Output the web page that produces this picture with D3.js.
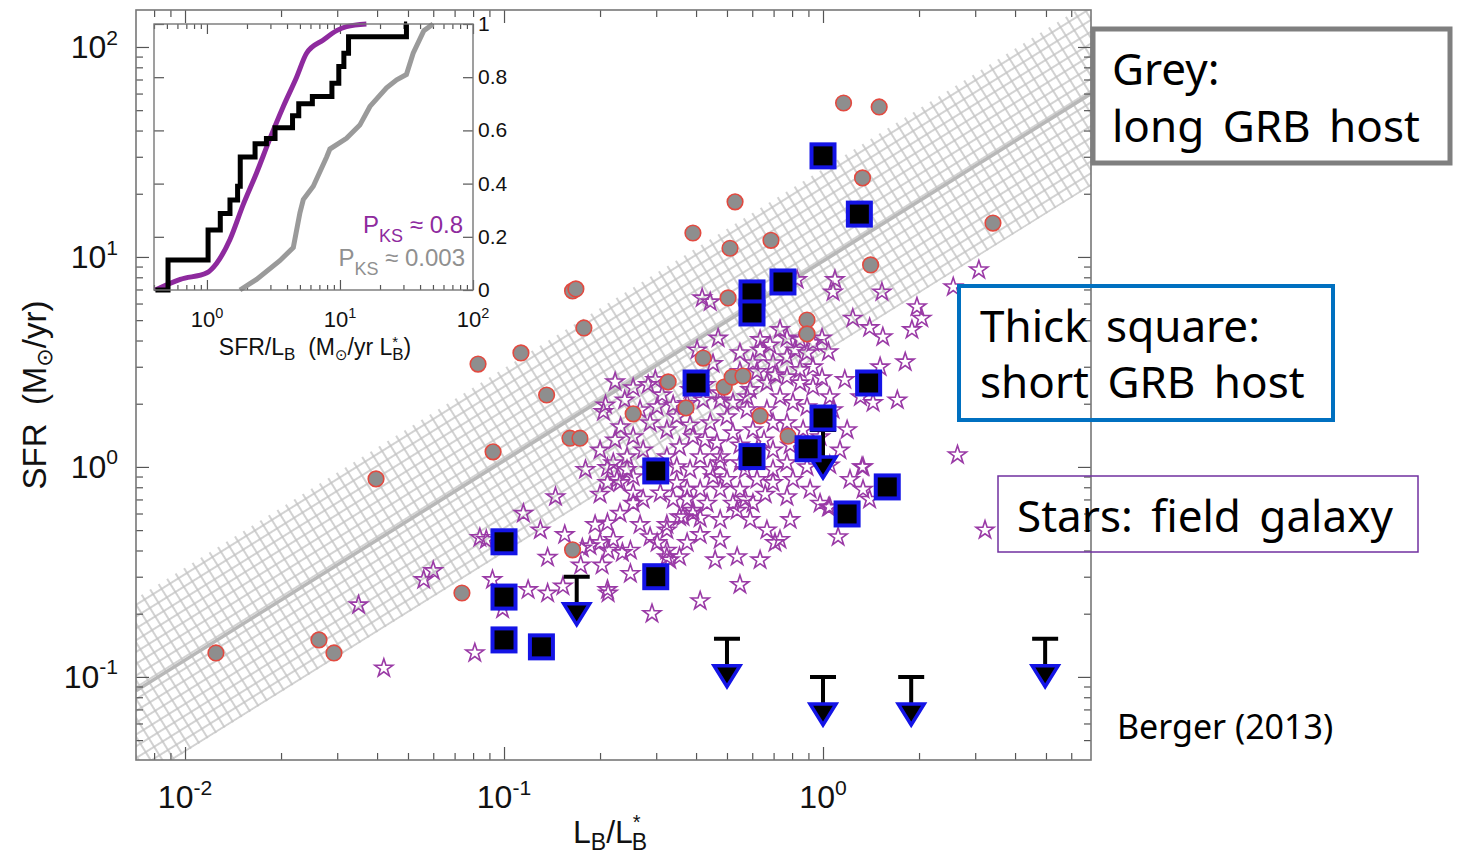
<!DOCTYPE html>
<html>
<head>
<meta charset="utf-8">
<script src="https://cdn.jsdelivr.net/npm/d3@7"></script>
<style>
  body { margin: 0; background: #fff; }
  svg { display: block; }
  text { font-family: "Liberation Sans", Arial, sans-serif; }
  .note { font-family: "Noto Sans", "Open Sans", sans-serif; }
</style>
</head>
<body>
<script>
// ---- data ----
// long GRB hosts (grey circles)
const longL = [0.0125, 0.0263, 0.0293, 0.0397, 0.0738, 0.0829, 0.0924, 0.113, 0.136, 0.164, 0.168, 0.178,
  0.161, 0.173, 0.164, 0.254, 0.327, 0.372, 0.391, 0.421, 0.504, 0.511, 0.530, 0.490, 0.519, 0.561,
  0.635, 0.687, 0.777, 0.891, 0.891, 1.16, 1.50, 1.33, 1.41, 3.41];
const longSFR = [0.130, 0.150, 0.130, 0.877, 0.251, 3.09, 1.18, 3.49, 2.20, 6.89, 7.04, 4.59,
  1.37, 1.37, 0.403, 1.79, 2.54, 1.91, 13.0, 3.30, 6.38, 11.0, 18.3, 2.40, 2.68, 2.71,
  1.75, 12.0, 1.40, 5.01, 4.30, 54.1, 51.8, 23.8, 9.16, 14.5];

// short GRB hosts (thick squares)
const shortL = [1.0, 1.30, 0.749, 0.599, 0.599, 0.400, 1.39, 1.0, 0.898, 0.599, 0.299, 1.59, 1.19,
  0.1, 0.1, 0.299, 0.1, 0.131];
const shortSFR = [30.3, 16.0, 7.60, 6.74, 5.41, 2.51, 2.51, 1.71, 1.22, 1.12, 0.957, 0.803, 0.597,
  0.44, 0.24, 0.30, 0.15, 0.139];

// short GRB hosts with SFR upper limits
const limitL = [0.169, 0.50, 1.0, 1.89, 4.97, 1.0];
const limitSFR = [0.30, 0.152, 0.10, 0.10, 0.152, 1.5];

// field galaxies (stars)
const fieldL = [0.042, 0.035, 0.056, 0.060, 0.081, 0.084, 0.088, 0.092, 0.099, 0.115, 0.130, 0.137, 0.145,
  0.119, 0.137, 0.153, 0.176, 0.186, 0.200, 0.212, 0.220, 0.235, 0.203, 0.212, 0.291, 0.302, 0.324,
  0.355, 0.375, 0.331, 0.538, 0.412, 0.391, 0.324, 0.364, 0.273, 0.254, 0.226, 0.211, 0.243, 0.309,
  0.348, 0.375, 0.412, 0.452, 0.476, 0.538, 0.570, 0.418, 0.443, 0.469, 0.403, 0.452, 0.223, 0.254,
  0.283, 0.298, 0.375, 0.208, 0.339, 0.476, 0.578, 0.205, 1.09, 1.075, 1.53, 1.97, 2.04, 1.24, 1.40,
  1.54, 1.90, 1.81, 1.51, 1.17, 1.71, 1.31, 1.435, 3.08, 2.56, 0.83, 2.64, 3.22, 1.325, 1.115, 1.04,
  0.707, 0.635, 0.682, 0.771, 0.847, 0.93, 0.993, 0.267, 0.302, 0.232, 0.254, 0.287, 0.324, 0.348,
  0.421, 0.476, 0.522, 0.591, 0.667, 0.771, 0.847, 0.93, 0.697, 0.771, 0.891, 0.603, 0.549, 0.635,
  0.847, 0.93, 0.733, 0.805, 0.891, 0.667, 0.578, 0.500, 0.443, 0.391, 0.355, 0.324, 0.273, 0.243,
  0.220, 0.211, 0.231, 0.254, 0.348, 0.412, 0.465, 0.522, 0.603, 0.697, 0.771, 0.866, 0.979, 1.075,
  1.05, 1.19, 1.13, 1.335, 1.335, 1.40, 1.05, 0.733, 0.667, 0.771, 0.697, 0.621, 0.549, 0.522, 0.476,
  0.375, 0.339, 0.254, 0.231, 0.211, 0.249, 0.287, 0.324, 0.355, 0.391, 0.433, 0.476, 0.324, 0.211,
  0.476, 0.549, 0.621, 0.697, 0.771, 0.697, 0.805, 0.891, 0.979, 0.603,
  0.239, 0.313, 0.383, 0.427, 0.549, 0.621, 0.707, 0.993, 1.04, 0.817, 0.733, 0.383, 0.427, 0.549,
  0.653, 0.789, 0.923, 0.287, 0.383, 0.443, 0.500, 0.570, 0.659, 0.412, 0.476, 0.591, 0.635, 0.459,
  0.267, 0.249, 0.193, 0.174, 0.155, 0.298, 0.549, 0.412, 0.789, 0.911, 1.215, 1.05, 0.223, 0.200,
  0.180, 0.200];
const fieldSFR = [0.11, 0.22, 0.29, 0.32, 0.13, 0.46, 0.45, 0.29, 0.21, 0.60, 0.50, 0.37, 0.72,
  0.26, 0.25, 0.27, 0.41, 0.42, 0.435, 0.40, 0.45, 0.39, 0.34, 0.25, 0.20, 0.435, 0.40,
  0.373, 0.435, 0.36, 0.373, 0.57, 0.60, 0.53, 0.578, 0.70, 0.75, 0.87, 0.99, 0.97, 0.75,
  0.84, 0.70, 0.78, 0.896, 1.116, 0.62, 0.70, 6.37, 6.1, 4.1, 3.6, 3.1, 2.54, 2.38,
  2.46, 2.6, 2.0, 1.97, 1.97, 2.08, 2.155, 1.83, 7.78, 6.8, 6.8, 5.78, 5.1, 5.1, 4.6,
  4.16, 4.5, 3.16, 2.99, 2.6, 2.08, 2.155, 2.02, 8.67, 7.2, 7.78, 1.14, 0.50, 1.0, 0.464, 0.64,
  0.435, 4.03, 3.8, 4.1, 4.03, 3.9, 4.1, 1.87, 1.93, 1.55, 1.39, 1.62, 1.50, 1.73,
  2.08, 2.25, 2.02, 2.33, 2.51, 2.68, 2.9, 2.99, 3.13, 3.34, 3.49, 3.13, 3.49, 3.6,
  2.51, 2.40, 2.155, 2.02, 1.93, 1.87, 1.87, 1.73, 1.62, 1.39, 1.245, 1.116, 1.2, 1.116,
  1.045, 0.84, 0.84, 0.896, 1.0, 1.116, 1.3, 1.45, 1.50, 1.62, 1.62, 1.50, 1.39, 1.87,
  2.155, 1.50, 1.2, 1.0, 0.78, 0.70, 0.645, 0.45, 0.50, 0.72, 0.84, 0.87, 0.78, 0.67, 0.78,
  0.78, 0.70, 0.67, 0.60, 0.54, 0.40, 0.464, 0.50, 0.578, 0.62, 0.67, 0.56, 0.373, 0.26,
  1.045, 1.045, 1.2, 1.2, 1.045, 0.97, 0.87, 1.0, 0.67, 0.67,
  2.08, 2.2, 2.33, 2.46, 2.84, 2.84, 2.74, 2.65, 3.53, 3.6, 4.5, 1.58, 1.34, 1.27,
  1.34, 1.27, 1.23, 0.97, 0.97, 0.97, 0.87, 0.97, 0.74, 0.475, 0.45, 0.56, 0.36, 0.36,
  0.53, 0.31, 0.53, 0.34, 0.475, 0.29, 0.275, 0.23, 0.56, 0.78, 0.87, 1.02, 1.34, 1.2,
  0.97, 0.74];

// SFR - L_B relation of long GRB hosts (log SFR = a + b log L, +/- scatter in dex)
const bandIntercept = 0.98;
const bandSlope = 0.95;
const bandScatter = 0.44;

// inset: cumulative distributions of SFR/L_B
const cdfShortX = [0.41, 0.51, 1.02, 1.26, 1.49, 1.70, 1.78, 2.3, 2.8, 3.25, 4.4, 4.9, 6.2, 8.7, 9.8, 10.7, 11.6, 31.6, 32];
const cdfShortY = [0, 0.113, 0.226, 0.288, 0.338, 0.39, 0.50, 0.55, 0.57, 0.61, 0.655, 0.70, 0.727, 0.777, 0.84, 0.89, 0.952, 1.0, 1.0];
const cdfFieldX = [0.41, 0.63, 1.0, 1.18, 1.49, 1.87, 2.36, 2.98, 3.75, 4.72, 5.61, 7.5, 9.44, 11.2, 15.8];
const cdfFieldY = [0, 0.04, 0.065, 0.10, 0.19, 0.32, 0.44, 0.57, 0.69, 0.80, 0.89, 0.94, 0.975, 0.99, 1.0];
const cdfLongX = [1.77, 2.36, 3.53, 4.46, 5.0, 5.3, 6.3, 7.94, 8.4, 11.2, 14.1, 16.8, 22.4, 26.7, 31.6, 35.5, 42.7, 50.1];
const cdfLongY = [0, 0.04, 0.11, 0.16, 0.29, 0.34, 0.39, 0.50, 0.53, 0.57, 0.62, 0.69, 0.76, 0.79, 0.81, 0.89, 0.975, 1.0];

// tick labels
const xTickExps = [-2, -1, 0];
const yTickExps = [-1, 0, 1, 2];
const insetXTickExps = [0, 1, 2];
const insetYTicks = [0, 0.2, 0.4, 0.6, 0.8, 1];

// ---- layout ----
const W = 1457, H = 859;
const P = { left: 136, right: 1091, top: 10, bottom: 760 };
const svg = d3.select("body").append("svg").attr("width", W).attr("height", H);

const x = d3.scaleLog().domain([0.00702, 6.92]).range([P.left, P.right]);
const y = d3.scaleLog().domain([0.0402, 150]).range([P.bottom, P.top]);

const defs = svg.append("defs");
defs.append("clipPath").attr("id", "plotclip")
  .append("rect").attr("x", P.left).attr("y", P.top)
  .attr("width", P.right - P.left).attr("height", P.bottom - P.top);

const hatch = defs.append("pattern").attr("id", "hatch")
  .attr("width", 10).attr("height", 10)
  .attr("patternUnits", "userSpaceOnUse")
  .attr("patternTransform", "rotate(-32)");
hatch.append("path").attr("d", "M0,5H10M5,0V10")
  .attr("stroke", "#c4c4c4").attr("stroke-width", 1.5).attr("fill", "none");

// hatched band + centre line
const rel = l => Math.pow(10, bandIntercept + bandSlope * Math.log10(l));
const [L0, L1] = x.domain();
const k = Math.pow(10, bandScatter);
const bandPts = [[L0, rel(L0) * k], [L1, rel(L1) * k], [L1, rel(L1) / k], [L0, rel(L0) / k]];
const gPlot = svg.append("g").attr("clip-path", "url(#plotclip)");
gPlot.append("path")
  .attr("d", d3.line().x(d => x(d[0])).y(d => y(d[1]))(bandPts) + "Z")
  .attr("fill", "url(#hatch)");
gPlot.append("path")
  .attr("d", d3.line().x(d => x(d)).y(d => y(rel(d)))([L0, L1]))
  .attr("stroke", "#b8b8b8").attr("stroke-width", 3.5).attr("fill", "none");

// field galaxies
const star = d3.symbol().type(d3.symbolStar).size(100);
gPlot.append("g").selectAll("path")
  .data(d3.range(fieldL.length))
  .join("path")
  .attr("transform", i => `translate(${x(fieldL[i])},${y(fieldSFR[i])})`)
  .attr("d", star)
  .attr("fill", "none").attr("stroke", "#9a3aa6").attr("stroke-width", 1.6);

// long GRB hosts
gPlot.append("g").selectAll("circle")
  .data(d3.range(longL.length))
  .join("circle")
  .attr("cx", i => x(longL[i])).attr("cy", i => y(longSFR[i]))
  .attr("r", 7.8)
  .attr("fill", "#8e8e8e").attr("stroke", "#e24a40").attr("stroke-width", 1.6);

// upper limits
const gLim = gPlot.append("g");
limitL.forEach((l, i) => {
  const cx = x(l), cy = y(limitSFR[i]);
  gLim.append("path").attr("d", `M${cx - 13},${cy}H${cx + 13}M${cx},${cy}V${cy + 30}`)
    .attr("stroke", "#000").attr("stroke-width", 4).attr("fill", "none");
  gLim.append("path").attr("d", `M${cx - 13},${cy + 27}L${cx + 13},${cy + 27}L${cx},${cy + 48}Z`)
    .attr("fill", "#000").attr("stroke", "#1414e6").attr("stroke-width", 3.5)
    .attr("stroke-linejoin", "miter");
});

// short GRB hosts
gPlot.append("g").selectAll("rect")
  .data(d3.range(shortL.length))
  .join("rect")
  .attr("x", i => x(shortL[i]) - 11.5).attr("y", i => y(shortSFR[i]) - 11.5)
  .attr("width", 23).attr("height", 23)
  .attr("fill", "#000").attr("stroke", "#1414e6").attr("stroke-width", 4);

// ---- axes of main panel ----
const isMajor = d => Math.abs(Math.log10(d) - Math.round(Math.log10(d))) < 1e-6;
const tickCol = "#555";
function ticks(axisFn, scale, values, len, tr) {
  svg.append("g").attr("transform", tr)
    .call(axisFn(scale).tickValues(values).tickSize(-len).tickSizeOuter(0).tickFormat(""))
    .call(g => g.select(".domain").remove())
    .selectAll("line").attr("stroke", tickCol).attr("stroke-width", 1.2);
}
const xt = x.ticks().filter(d => d >= L0 && d <= L1);
const yt = y.ticks();
ticks(d3.axisBottom, x, xt.filter(isMajor), 13, `translate(0,${P.bottom})`);
ticks(d3.axisBottom, x, xt.filter(d => !isMajor(d)), 7, `translate(0,${P.bottom})`);
ticks(d3.axisTop, x, xt.filter(isMajor), 13, `translate(0,${P.top})`);
ticks(d3.axisTop, x, xt.filter(d => !isMajor(d)), 7, `translate(0,${P.top})`);
ticks(d3.axisLeft, y, yt.filter(isMajor), 13, `translate(${P.left},0)`);
ticks(d3.axisLeft, y, yt.filter(d => !isMajor(d)), 7, `translate(${P.left},0)`);
ticks(d3.axisRight, y, yt.filter(isMajor), 13, `translate(${P.right},0)`);
ticks(d3.axisRight, y, yt.filter(d => !isMajor(d)), 7, `translate(${P.right},0)`);

svg.append("rect").attr("x", P.left).attr("y", P.top)
  .attr("width", P.right - P.left).attr("height", P.bottom - P.top)
  .attr("fill", "none").attr("stroke", "#777").attr("stroke-width", 1.6);

function powLabel(g, px, py, exp, size, anchor) {
  const t = g.append("text").attr("x", px).attr("y", py)
    .attr("text-anchor", anchor).attr("font-size", size).attr("fill", "#111");
  t.append("tspan").text("10");
  t.append("tspan").attr("dy", -size * 0.42).attr("font-size", size * 0.66).text(String(exp));
}
xTickExps.forEach(e => powLabel(svg, x(Math.pow(10, e)), 808, e, 32, "middle"));
yTickExps.forEach(e => powLabel(svg, 118, y(Math.pow(10, e)) + 11, e, 32, "end"));

// axis titles
const xTitle = svg.append("text").attr("x", 610).attr("y", 843)
  .attr("text-anchor", "middle").attr("font-size", 32).attr("fill", "#111");
xTitle.append("tspan").text("L");
xTitle.append("tspan").attr("dy", 7).attr("font-size", 23).text("B");
xTitle.append("tspan").attr("dy", -7).text("/L");
xTitle.append("tspan").attr("dy", -14).attr("font-size", 20).text("*");
xTitle.append("tspan").attr("dx", -9).attr("dy", 21).attr("font-size", 23).text("B");

const yTitle = svg.append("text")
  .attr("transform", "translate(46,395) rotate(-90)")
  .attr("text-anchor", "middle").attr("font-size", 33).attr("fill", "#111");
yTitle.append("tspan").text("SFR\u00a0\u00a0(M");
yTitle.append("tspan").attr("dy", 6).attr("font-size", 22).attr("font-family", "DejaVu Sans").text("\u2299");
yTitle.append("tspan").attr("dy", -6).text("/yr)");

// ---- inset ----
const I = { left: 154, right: 473, top: 24, bottom: 290 };
const ix = d3.scaleLog().domain([0.4, 100]).range([I.left, I.right]);
const iy = d3.scaleLinear().domain([0, 1]).range([I.bottom, I.top]);

svg.append("rect").attr("x", I.left).attr("y", I.top)
  .attr("width", I.right - I.left).attr("height", I.bottom - I.top)
  .attr("fill", "#fff");

const ixt = ix.ticks();
ticks(d3.axisBottom, ix, ixt.filter(isMajor), 10, `translate(0,${I.bottom})`);
ticks(d3.axisBottom, ix, ixt.filter(d => !isMajor(d)), 5, `translate(0,${I.bottom})`);
ticks(d3.axisTop, ix, ixt.filter(isMajor), 10, `translate(0,${I.top})`);
ticks(d3.axisTop, ix, ixt.filter(d => !isMajor(d)), 5, `translate(0,${I.top})`);
ticks(d3.axisLeft, iy, insetYTicks, 10, `translate(${I.left},0)`);
ticks(d3.axisRight, iy, insetYTicks, 10, `translate(${I.right},0)`);

const gIn = svg.append("g");
const cdfLine = curve => d3.line().x(d => ix(d[0])).y(d => iy(d[1])).curve(curve);
gIn.append("path").attr("d", cdfLine(d3.curveLinear)(d3.zip(cdfLongX, cdfLongY)))
  .attr("fill", "none").attr("stroke", "#9a9a9a").attr("stroke-width", 5);
gIn.append("path").attr("d", cdfLine(d3.curveMonotoneX)(d3.zip(cdfFieldX, cdfFieldY)))
  .attr("fill", "none").attr("stroke", "#8e2a9e").attr("stroke-width", 5);
gIn.append("path").attr("d", cdfLine(d3.curveStepAfter)(d3.zip(cdfShortX, cdfShortY)))
  .attr("fill", "none").attr("stroke", "#000").attr("stroke-width", 5);

svg.append("rect").attr("x", I.left).attr("y", I.top)
  .attr("width", I.right - I.left).attr("height", I.bottom - I.top)
  .attr("fill", "none").attr("stroke", "#777").attr("stroke-width", 1.4);

insetYTicks.forEach(v => {
  svg.append("text").attr("x", I.right + 5).attr("y", iy(v) + 7)
    .attr("font-size", 21).attr("fill", "#111").text(String(v));
});
insetXTickExps.forEach(e => powLabel(svg, ix(Math.pow(10, e)), 327, e, 22, "middle"));

const iTitle = svg.append("text").attr("x", 315).attr("y", 355)
  .attr("text-anchor", "middle").attr("font-size", 23).attr("fill", "#111");
iTitle.append("tspan").text("SFR/L");
iTitle.append("tspan").attr("dy", 5).attr("font-size", 17).text("B");
iTitle.append("tspan").attr("dy", -5).text("\u00a0\u00a0(M");
iTitle.append("tspan").attr("dy", 5).attr("font-size", 15).attr("font-family", "DejaVu Sans").text("\u2299");
iTitle.append("tspan").attr("dy", -5).text("/yr L");
iTitle.append("tspan").attr("dy", -8).attr("font-size", 15).text("*");
iTitle.append("tspan").attr("dx", -6).attr("dy", 13).attr("font-size", 17).text("B");
iTitle.append("tspan").attr("dy", -5).text(")");

function pks(px, py, val, col) {
  const t = svg.append("text").attr("x", px).attr("y", py).attr("text-anchor", "end")
    .attr("font-size", 24).attr("fill", col);
  t.append("tspan").text("P");
  t.append("tspan").attr("dy", 9).attr("font-size", 18).text("KS");
  t.append("tspan").attr("dy", -9).text(" \u2248 " + val);
}
pks(463, 233, "0.8", "#8e2a9e");
pks(465, 266, "0.003", "#909090");

// ---- annotation boxes ----
function note(bx, by, bw, bh, col, sw, lines, tx, ty, dy) {
  svg.append("rect").attr("x", bx).attr("y", by).attr("width", bw).attr("height", bh)
    .attr("fill", "none").attr("stroke", col).attr("stroke-width", sw);
  lines.forEach((s, j) => {
    svg.append("text").attr("class", "note").attr("x", tx).attr("y", ty + j * dy)
      .attr("font-size", 44).attr("fill", "#000").attr("word-spacing", 7).text(s);
  });
}
note(1093, 29, 357, 134, "#7f7f7f", 5, ["Grey:", "long GRB host"], 1112, 85, 57);
note(959, 286, 374, 134, "#0070c0", 4, ["Thick square:", "short GRB host"], 980, 342, 56);
note(998, 476, 420, 76, "#7030a0", 1.5, ["Stars: field galaxy"], 1017, 532, 0);

svg.append("text").attr("class", "note").attr("x", 1117).attr("y", 739)
  .attr("font-size", 34).attr("fill", "#000").text("Berger (2013)");
</script>
</body>
</html>
